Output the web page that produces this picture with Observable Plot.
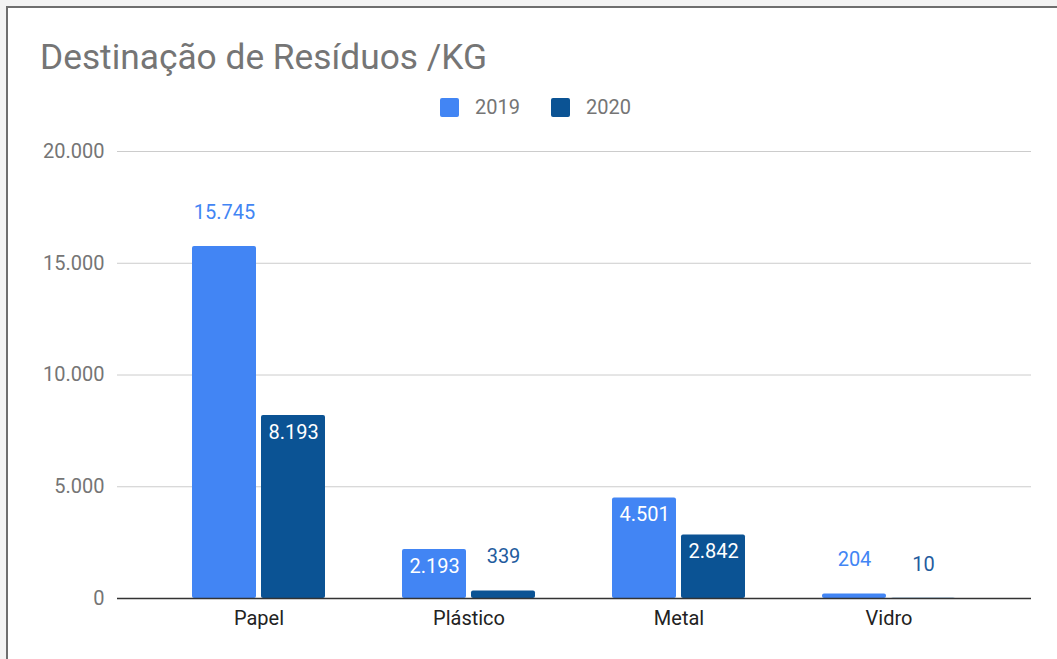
<!DOCTYPE html>
<html>
<head>
<meta charset="utf-8">
<script src="https://cdn.jsdelivr.net/npm/d3@7"></script>
<script src="https://cdn.jsdelivr.net/npm/@observablehq/plot@0.6"></script>
<style>
  html, body { margin: 0; padding: 0; background: #f3f3f3; width: 1057px; height: 659px; overflow: hidden; font-family: Roboto, sans-serif; }
  #frame { position: absolute; left: 6px; top: 6px; width: 1060px; height: 660px; background: #fff; border-left: 2px solid #6e6e6e; border-top: 2px solid #6e6e6e; }
  #chart { position: absolute; left: 0; top: 0; }
  #title { position: absolute; left: 40px; top: 40px; font-size: 35.3px; line-height: 35px; color: #757575; white-space: nowrap; }
  .leg { position: absolute; top: 97px; height: 20px; display: flex; align-items: center; font-size: 20px; color: #757575; }
  .sw { width: 19px; height: 19px; border-radius: 2px; margin-right: 16px; }
</style>
</head>
<body>
<div id="frame"></div>
<div id="chart"></div>
<div id="title">Destinação de Resíduos /KG</div>
<div id="legend"></div>
<script>
const categories = ["Papel", "Plástico", "Metal", "Vidro"];
const values2019 = [15745, 2193, 4501, 204];
const values2020 = [8193, 339, 2842, 10];
const seriesNames = ["2019", "2020"];
const seriesColors = ["#4285f4", "#0b5394"];
const yTicks = [0, 5000, 10000, 15000, 20000];

const locale = d3.formatLocale({decimal: ",", thousands: ".", grouping: [3], currency: ["R$", ""]});
const fmt = locale.format(",");

const rows = [];
categories.forEach((c, i) => {
  rows.push({cat: c, series: seriesNames[0], value: values2019[i]});
  rows.push({cat: c, series: seriesNames[1], value: values2020[i]});
});
const maxVal = d3.max(rows, d => d.value);
const isInside = d => d.value >= 1000 && d.value < maxVal;
const s19 = rows.filter(d => d.series === seriesNames[0]);
const s20 = rows.filter(d => d.series === seriesNames[1]);

const chart = Plot.plot({
  width: 1057,
  height: 659,
  marginTop: 151,
  marginBottom: 61,
  marginLeft: 117,
  marginRight: 26,
  style: {fontFamily: "Roboto, sans-serif", background: "transparent", color: "#757575"},
  x: {domain: categories, paddingInner: 0.365, paddingOuter: 0.35, label: null},
  y: {domain: [0, 20000], label: null},
  marks: [
    Plot.gridY(yTicks, {stroke: "#cccccc", strokeOpacity: 1}),
    Plot.barY(s19, {x: "cat", y: "value", fill: seriesColors[0], insetRight: 69, rx: 2}),
    Plot.barY(s20, {x: "cat", y: "value", fill: seriesColors[1], insetLeft: 69, rx: 2}),
    Plot.ruleY([0], {stroke: "#333333", strokeWidth: 1.5}),
    Plot.axisY(yTicks, {tickSize: 0, tickPadding: 13, tickFormat: fmt, fontSize: 20, fill: "#757575", label: null}),
    Plot.axisX({tickSize: 0, tickPadding: 12, fontSize: 20, fill: "#222222", label: null}),
    Plot.text(s19.filter(d => !isInside(d)), {x: "cat", y: "value", text: d => fmt(d.value), dx: -34.5, dy: -34, fill: seriesColors[0], fontSize: 20}),
    Plot.text(s19.filter(isInside), {x: "cat", y: "value", text: d => fmt(d.value), dx: -34.5, dy: 17, fill: "#ffffff", fontSize: 20}),
    Plot.text(s20.filter(d => !isInside(d)), {x: "cat", y: "value", text: d => fmt(d.value), dx: 34.5, dy: -34, fill: "#1f5c9e", fontSize: 20}),
    Plot.text(s20.filter(isInside), {x: "cat", y: "value", text: d => fmt(d.value), dx: 34.5, dy: 17, fill: "#ffffff", fontSize: 20})
  ]
});
document.getElementById("chart").appendChild(chart);

const legend = document.getElementById("legend");
const legLeft = [440, 551];
seriesNames.forEach((name, i) => {
  const item = document.createElement("div");
  item.className = "leg";
  item.style.left = legLeft[i] + "px";
  const sw = document.createElement("div");
  sw.className = "sw";
  sw.style.background = seriesColors[i];
  const t = document.createElement("span");
  t.textContent = name;
  item.appendChild(sw);
  item.appendChild(t);
  legend.appendChild(item);
});
</script>
</body>
</html>
